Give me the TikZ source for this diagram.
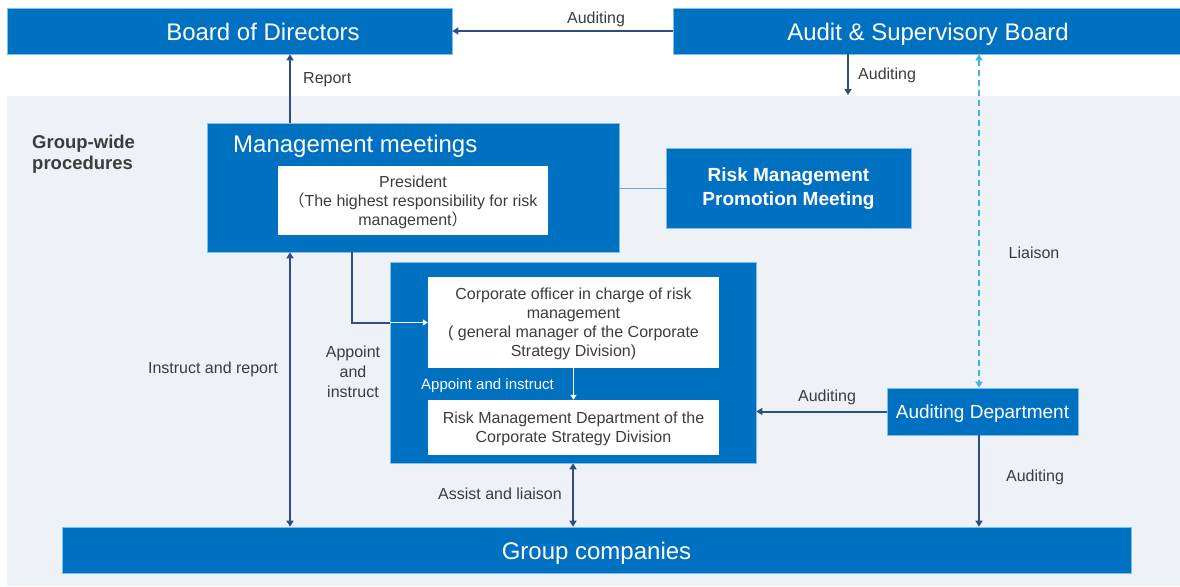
\documentclass[tikz,border=0pt]{standalone}
\usepackage{fontspec}
\setmainfont{Liberation Sans}
\newfontfamily\cjk{Noto Sans CJK JP}
\usetikzlibrary{arrows.meta}
\definecolor{bblue}{HTML}{0070C0}
\definecolor{navy}{HTML}{2D4F80}
\definecolor{bgc}{HTML}{EEF1F5}
\definecolor{cyanl}{HTML}{3DB6E6}
\definecolor{txt}{HTML}{3C3C3C}
\definecolor{edgec}{HTML}{7CC0EA}
\definecolor{linkc}{HTML}{6FA6D6}
\tikzset{
  bluebox/.style={fill=bblue, draw=edgec, line width=0.6pt, inner sep=0pt, text=white, align=center},
  whitebox/.style={fill=white, draw=none, inner sep=0pt, text=txt, align=center},
  bigtxt/.style={font=\fontsize{24}{28}\selectfont, text height=17.2pt, text depth=0pt},
  bodytxt/.style={font=\fontsize{16}{19}\selectfont},
  lbl/.style={text=txt, font=\fontsize{16}{20}\selectfont, inner sep=0pt, align=center},
  titletxt/.style={text=white, inner sep=0pt},
  arr/.style={draw=navy, line width=2pt, -{Triangle[width=7pt,length=6pt]}},
  darr/.style={draw=navy, line width=2pt, {Triangle[width=7pt,length=6pt]}-{Triangle[width=7pt,length=6pt]}},
}
\begin{document}
\begin{tikzpicture}[x=1pt,y=-1pt]
\useasboundingbox (0,0) rectangle (1180,586);
\fill[white] (0,0) rectangle (1180,586);
\fill[bgc] (7,96) rectangle (1180,586);

% top boards
\node[bluebox, minimum width=445, minimum height=46] (bod) at (229.5,31) {};
\node[titletxt, bigtxt] (bodt) at (263,32) {Board of Directors};
\node[bluebox, minimum width=507, minimum height=46] (asb) at (926.5,31) {};
\node[titletxt, bigtxt] (asbt) at (928,32) {Audit \& Supervisory Board};

% group-wide procedures
\node[text=txt, font=\bfseries\fontsize{18.5}{21}\selectfont, align=left, anchor=north west, inner sep=0pt] (gwp) at (32,135) {Group-wide\\procedures};

% management meetings
\node[bluebox, minimum width=412, minimum height=129] (mm) at (413,187.5) {};
\node[titletxt, bigtxt, anchor=west] (mmt) at (233,144) {Management meetings};
\node[whitebox, bodytxt, minimum width=270, minimum height=69] (pres) at (413,200.5)
  {\rule{0pt}{15pt}President\\{\cjk （}The highest responsibility for risk\\management{\cjk ）}};

% risk management promotion meeting
\node[bluebox, font=\bfseries\fontsize{19}{24}\selectfont, minimum width=245, minimum height=80] (rmpm) at (788.5,188) {\rule{0pt}{16pt}Risk Management\\Promotion Meeting};
\draw[linkc, line width=1pt] (mm.east |- rmpm.west) -- (rmpm.west);

% inner box
\node[bluebox, minimum width=366, minimum height=201] (inner) at (573,362.5) {};
\node[whitebox, bodytxt, minimum width=291, minimum height=91] (co) at (573.5,322.5)
  {\rule{0pt}{15pt}Corporate officer in charge of risk\\management\\( general manager of the Corporate\\Strategy Division)};
\node[whitebox, bodytxt, minimum width=291, minimum height=55] (rmd) at (573.5,427.5)
  {\rule{0pt}{15pt}Risk Management Department of the\\Corporate Strategy Division};
\draw[white, line width=1.6pt, -{Triangle[width=6pt,length=5pt]}] (co.south) -- (rmd.north);
\node[text=white, font=\fontsize{15}{18}\selectfont, inner sep=0pt, anchor=east] (ai2) at (554,386) {Appoint and instruct};

% auditing department
\node[bluebox, minimum width=191, minimum height=47] (ad) at (982.5,411.5) {};
\node[titletxt, font=\fontsize{19}{22}\selectfont, text height=13.6pt, text depth=0pt] (adt) at (982.5,412) {Auditing Department};

% group companies
\node[bluebox, minimum width=1069, minimum height=46] (gc) at (596.5,550) {};
\node[titletxt, bigtxt] (gct) at (596.5,550.5) {Group companies};

% coordinates for vertical connectors
\coordinate (x290) at (290,0);
\coordinate (x352) at (352,0);
\coordinate (x848) at (848,0);
\coordinate (x979) at (979,0);
\coordinate (asbend) at (848,95);

% connectors
\draw[arr] (asb.west) -- (bod.east);
\node[lbl] (l1) at (596,19) {Auditing};

\draw[arr] (mm.north -| x290) -- (bod.south -| x290);
\node[lbl, anchor=west] (l2) at (303,80) {Report};

\draw[arr] (asb.south -| x848) -- (asbend);
\node[lbl, anchor=west] (l3) at (858,75) {Auditing};

\draw[cyanl, line width=2pt, dash pattern=on 6pt off 4pt, {Triangle[width=7pt,length=6pt]}-{Triangle[width=7pt,length=6pt]}] (asb.south -| x979) -- (ad.north -| x979);
\node[lbl] (l4) at (1034,253) {Liaison};

\draw[darr] (mm.south -| x290) -- (gc.north -| x290);
\node[lbl] (l5) at (213,369) {Instruct and report};

\draw[navy, line width=2pt] (mm.south -| x352) |- (inner.west |- co.west);
\draw[white, line width=1.6pt, -{Triangle[width=6pt,length=5pt]}] (inner.west |- co.west) -- (co.west);
\node[lbl] (l6) at (353,372) {Appoint\\and\\instruct};

\draw[darr] (inner.south) -- (gc.north -| inner.south);
\node[lbl] (l7) at (500,494) {Assist and liaison};

\draw[arr] (ad.west) -- (inner.east |- ad.west);
\node[lbl] (l8) at (827,397) {Auditing};

\draw[arr] (ad.south -| x979) -- (gc.north -| x979);
\node[lbl] (l9) at (1035,477) {Auditing};
\end{tikzpicture}
\end{document}
